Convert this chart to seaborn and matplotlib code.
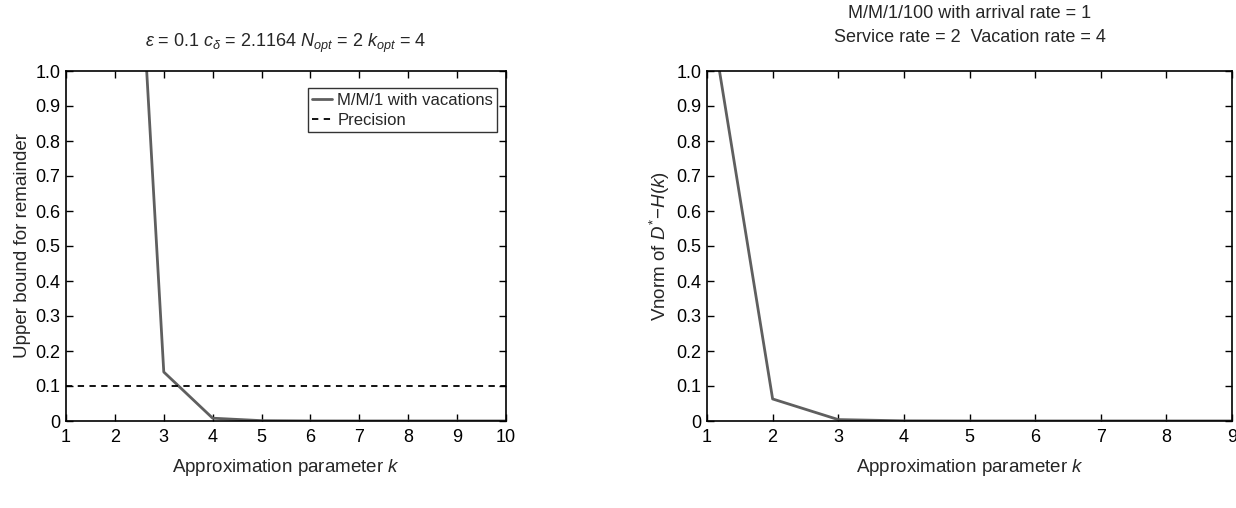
import numpy as np
import pandas as pd
import matplotlib
matplotlib.use("Agg")
import matplotlib.pyplot as plt
import seaborn as sns

# ---- data ----
k_left = [1, 2, 3, 4, 5, 6, 7, 8, 9, 10]
bound_left = [30.0, 2.6, 0.14, 0.008, 0.001, 0.0002, 0.0001, 0.0001, 0.0001, 0.0001]
precision = 0.1

k_right = [1, 2, 3, 4, 5, 6, 7, 8, 9]
vnorm_right = [1.22, 0.063, 0.004, 0.0005, 0.0001, 0.0001, 0.0001, 0.0001, 0.0001]

yticks = [0, 0.1, 0.2, 0.3, 0.4, 0.5, 0.6, 0.7, 0.8, 0.9, 1.0]
ytick_labels = ["0", "0.1", "0.2", "0.3", "0.4", "0.5", "0.6", "0.7", "0.8", "0.9", "1.0"]

left_title = r"$\varepsilon$ = 0.1 $c_{\delta}$ = 2.1164 $N_{opt}$ = 2 $k_{opt}$ = 4"
right_title = "M/M/1/100 with arrival rate = 1\nService rate = 2  Vacation rate = 4"
xlabel = r"Approximation parameter $k$"
left_ylabel = "Upper bound for remainder"
right_ylabel = r"Vnorm of $D^{*}\!-\!H(k)$"

# ---- style ----
sns.set_theme(style="ticks")
plt.rcParams["font.family"] = ["Liberation Sans", "DejaVu Sans"]
plt.rcParams["mathtext.fontset"] = "custom"
plt.rcParams["mathtext.rm"] = "Liberation Sans"
plt.rcParams["mathtext.it"] = "Liberation Sans:italic"
plt.rcParams["mathtext.bf"] = "Liberation Sans:bold"
plt.rcParams["axes.edgecolor"] = "black"
plt.rcParams["axes.linewidth"] = 1.2

FS = 13
line_color = "#5f5f5f"

fig = plt.figure(figsize=(12.36, 5.08), dpi=100)
ax1 = fig.add_axes([66 / 1236, 1 - 421 / 508, 440 / 1236, 350 / 508])
ax2 = fig.add_axes([707 / 1236, 1 - 421 / 508, 525 / 1236, 350 / 508])

df_l = pd.DataFrame({"k": k_left, "v": bound_left})
df_r = pd.DataFrame({"k": k_right, "v": vnorm_right})

sns.lineplot(data=df_l, x="k", y="v", ax=ax1, color=line_color, lw=2,
             label="M/M/1 with vacations")
ax1.axhline(precision, color="black", lw=1.3, ls=(0, (3.5, 3)), label="Precision")
sns.lineplot(data=df_r, x="k", y="v", ax=ax2, color=line_color, lw=2, legend=False)

for ax, ks in ((ax1, k_left), (ax2, k_right)):
    ax.set_xlim(ks[0], ks[-1])
    ax.set_ylim(0, 1.0)
    ax.set_xticks(ks)
    ax.set_xticklabels([str(k) for k in ks], fontsize=FS)
    ax.set_yticks(yticks)
    ax.set_yticklabels(ytick_labels, fontsize=FS)
    ax.tick_params(direction="in", top=True, right=True, length=5, width=1,
                   colors="black")
    ax.tick_params(axis="x", pad=6)
    ax.tick_params(axis="y", pad=4)
    ax.set_xlabel(xlabel, fontsize=FS + 0.5, labelpad=8)
    for s in ax.spines.values():
        s.set_visible(True)
        s.set_color("black")

ax1.set_ylabel(left_ylabel, fontsize=FS + 0.5, labelpad=3)
ax2.set_ylabel(right_ylabel, fontsize=FS + 0.5, labelpad=3)
ax1.set_title(left_title, fontsize=FS, pad=17)
ax2.set_title(right_title, fontsize=FS, pad=21, linespacing=1.5)

leg = ax1.legend(loc="upper right", bbox_to_anchor=(0.98, 0.95), fontsize=12,
                 frameon=True, fancybox=False, edgecolor="black",
                 handlelength=1.2, handletextpad=0.3, borderpad=0.25,
                 labelspacing=0.3, borderaxespad=0)
leg.get_frame().set_linewidth(1.0)

fig.savefig("out.png", dpi=100)
